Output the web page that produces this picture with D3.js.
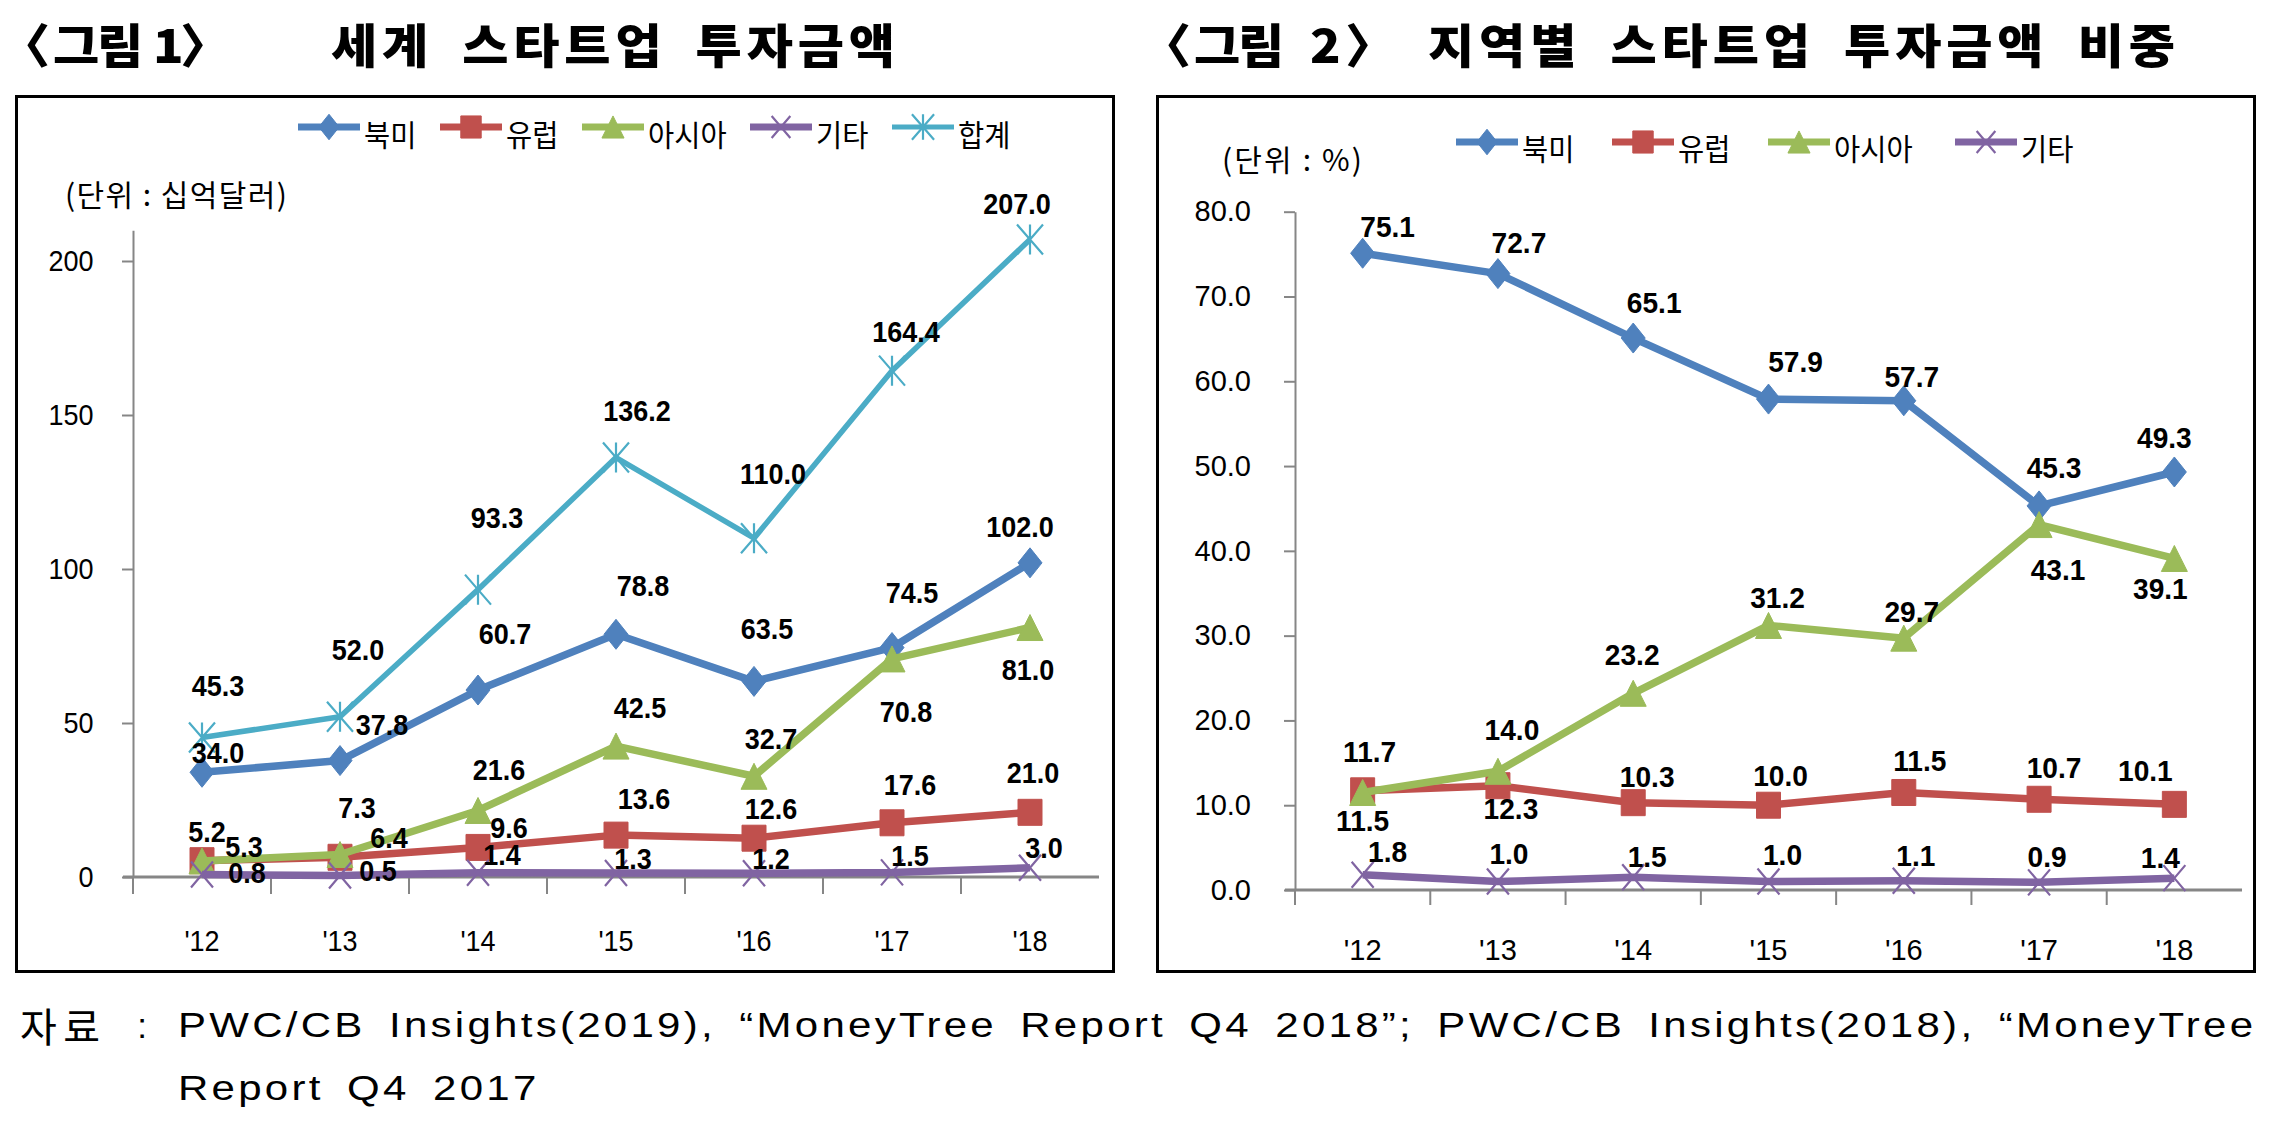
<!DOCTYPE html>
<html><head><meta charset="utf-8">
<script src="https://cdn.jsdelivr.net/npm/d3@7"></script>
<style>body{margin:0;background:#fff}svg{display:block}</style>
</head><body>
<svg id="c" width="2282" height="1126"></svg>
<script>
// ---------------- DATA ----------------
const years = ["'12","'13","'14","'15","'16","'17","'18"];
const seriesNames = ["북미","유럽","아시아","기타","합계"];
// 그림 1 : 세계 스타트업 투자금액 (십억달러)
const amtNorthAmerica = [34.0,37.8,60.7,78.8,63.5,74.5,102.0];
const amtEurope       = [5.3,6.4,9.6,13.6,12.6,17.6,21.0];
const amtAsia         = [5.2,7.3,21.6,42.5,32.7,70.8,81.0];
const amtOther        = [0.8,0.5,1.4,1.3,1.2,1.5,3.0];
const amtTotal        = [45.3,52.0,93.3,136.2,110.0,164.4,207.0];
const amtTicks        = [0,50,100,150,200];
// 그림 2 : 지역별 스타트업 투자금액 비중 (%)
const shareNorthAmerica = [75.1,72.7,65.1,57.9,57.7,45.3,49.3];
const shareEurope       = [11.7,12.3,10.3,10.0,11.5,10.7,10.1];
const shareAsia         = [11.5,14.0,23.2,31.2,29.7,43.1,39.1];
const shareOther        = [1.8,1.0,1.5,1.0,1.1,0.9,1.4];
const shareTicks        = [0,10,20,30,40,50,60,70,80];

// ---------------- LAYOUT / STYLE ----------------
const colors = {"북미":"#4F81BD","유럽":"#C0504D","아시아":"#9BBB59","기타":"#8064A2","합계":"#4BACC6"};
const markers = {"북미":"diamond","유럽":"square","아시아":"triangle","기타":"x","합계":"star"};
// data-label offsets (px, relative to the point)
const offL = {
  "북미":[[16,-20],[42,-36],[27,-57],[27,-49],[13,-53],[20,-55],[-10,-36]],
  "유럽":[[42,-14],[49,-20],[31,-20],[28,-37],[17,-30],[18,-38],[3,-40]],
  "아시아":[[5,-29],[17,-47],[21,-41],[24,-39],[17,-38],[14,53],[-2,42]],
  "기타":[[45,-2],[38,-5],[24,-18],[17,-15],[17,-15],[18,-17],[14,-20]],
  "합계":[[16,-52],[18,-67],[19,-72],[21,-47],[19,-65],[14,-39],[-13,-36]]
};
const offR = {
  "북미":[[25,-26],[21,-31],[21,-35],[27,-37],[8,-24],[15,-38],[-10,-34]],
  "유럽":[[7,-39],[13,23],[14,-26],[12,-29],[16,-32],[15,-31],[-29,-34]],
  "아시아":[[0,28],[14,-41],[-1,-38],[9,-28],[8,-26],[19,45],[-14,30]],
  "기타":[[25,-23],[11,-28],[14,-20],[14,-27],[12,-25],[8,-26],[-14,-20]]
};

const svg = d3.select("#c");
const NUMF = "'Liberation Sans', Arial, sans-serif";
const KRF = "'Noto Sans CJK KR', 'Noto Sans', sans-serif";

function markerPath(type, w, h){
  const a=w/2,b=h/2;
  switch(type){
    case "diamond": return `M0,${-b}L${a},0L0,${b}L${-a},0Z`;
    case "square": return `M${-a},${-b}H${a}V${b}H${-a}Z`;
    case "triangle": return `M0,${-b}L${a},${b}L${-a},${b}Z`;
    case "x": return `M${-a},${-b}L${a},${b}M${a},${-b}L${-a},${b}`;
    case "star": return `M${-a},${-b}L${a},${b}M${a},${-b}L${-a},${b}M0,${-b}V${b}`;
  }
}
const mSize = {diamond:[24,30],square:[24,26],triangle:[26,26],x:[22,26],star:[26,30]};
function drawMarker(g, type, cx, cy, color, k){
  k = k||1;
  const [w,h] = mSize[type];
  const filled = type==="diamond"||type==="square"||type==="triangle";
  g.append("path").attr("d", markerPath(type,w*k,h*k))
    .attr("transform",`translate(${cx},${cy})`)
    .attr("fill", filled?color:"none")
    .attr("stroke", color).attr("stroke-width", filled?1:2.2);
}
function txt(g, x, y, s, o){
  o=o||{};
  const t = g.append("text")
    .attr("transform",`translate(${x},${y}) scale(${o.sx||1},1)`)
    .attr("text-anchor", o.anchor||"middle")
    .attr("dominant-baseline","central")
    .attr("fill", o.fill||"#000")
    .style("font-family", o.family||NUMF)
    .style("font-size", (o.size||28)+"px")
    .style("font-weight", o.weight||"normal")
    .text(s);
  if(o.len){ t.attr("textLength", o.len).attr("lengthAdjust","spacing"); }
  return t;
}
// give word gaps a fixed extra, then spread the rest evenly over the letters
function spread(t, target, wsExtra){
  t.style("word-spacing", wsExtra+"px").style("letter-spacing","0px");
  const w = t.node().getBBox().width;
  const n = t.text().length;
  const ls = (target - w)/(n-1);
  t.style("letter-spacing", ls+"px");
  return ls;
}

function drawChart(cfg){
  const g = svg.append("g");
  const x = d3.scaleBand().domain(years).range([cfg.x0,cfg.x1]).padding(0);
  const y = d3.scaleLinear().domain(cfg.dom).range([cfg.y0,cfg.y1]);
  const cx = d => x(d)+x.bandwidth()/2;
  // y axis
  const ya = g.append("g").attr("transform",`translate(${cfg.x0},0)`)
    .call(d3.axisLeft(y).tickValues(cfg.ticks).tickSize(11).tickPadding(cfg.pad).tickSizeOuter(0).tickFormat(cfg.fmt));
  ya.select(".domain").attr("stroke","#868686").attr("stroke-width",2);
  ya.selectAll(".tick line").attr("stroke","#868686").attr("stroke-width",2);
  ya.selectAll(".tick text").attr("fill","#000")
    .style("font-family",NUMF).style("font-size",cfg.tickFont+"px")
    .attr("transform",`scale(${cfg.tsx},1)`);
  // x axis
  g.append("line").attr("x1",cfg.x0-10).attr("x2",cfg.x1).attr("y1",cfg.y0).attr("y2",cfg.y0)
    .attr("stroke","#868686").attr("stroke-width",3);
  d3.range(years.length).forEach(k=>{
    const xx = cfg.x0 + k*x.step();
    g.append("line").attr("x1",xx).attr("x2",xx).attr("y1",cfg.y0).attr("y2",cfg.y0+cfg.tl)
      .attr("stroke","#868686").attr("stroke-width",2);
  });
  years.forEach(yr=> txt(g, cx(yr), cfg.xly, yr, {size:cfg.tickFont, sx:cfg.tsx}));
  // series
  const line = d3.line().x((v,i)=>cx(years[i])).y(v=>y(v));
  cfg.series.forEach(s=>{
    const c = colors[s.name];
    g.append("path").datum(s.values).attr("d",line).attr("fill","none")
      .attr("stroke",c).attr("stroke-width", s.name==="합계"?5.5:7.5)
      .attr("stroke-linejoin","round");
    s.values.forEach((v,i)=> drawMarker(g, markers[s.name], cx(years[i]), y(v), c, cfg.mk));
  });
  // data labels
  cfg.series.forEach(s=>{
    const off = cfg.off[s.name];
    s.values.forEach((v,i)=>{
      txt(g, cx(years[i])+off[i][0], y(v)+off[i][1], d3.format(".1f")(v),
        {size:cfg.labFont, weight:"bold", sx:cfg.lsx});
    });
  });
}

function legend(items, xs, ty, my){
  const g = svg.append("g");
  items.forEach((n,i)=>{
    const x0 = xs[i];
    g.append("line").attr("x1",x0).attr("x2",x0+62).attr("y1",my).attr("y2",my)
      .attr("stroke",colors[n]).attr("stroke-width", n==="합계"?5:7);
    drawMarker(g, markers[n], x0+31, my, colors[n], 0.85);
    txt(g, x0+66, ty, n, {anchor:"start", family:KRF, size:30, sx:0.95});
  });
}

// frames
svg.append("rect").attr("x",16.5).attr("y",96.5).attr("width",1097).attr("height",875)
  .attr("fill","none").attr("stroke","#000").attr("stroke-width",3);
svg.append("rect").attr("x",1157.5).attr("y",96.5).attr("width",1097).attr("height",875)
  .attr("fill","none").attr("stroke","#000").attr("stroke-width",3);

// titles
const TSX = 1.07;
const TF = {family:KRF, size:47, weight:900, anchor:"start", sx:TSX};
function titleLabel(xOpen, xWord, num, xNum, xClose){
  txt(svg, xOpen, 43, "〈", TF);
  txt(svg, xWord, 43, "그림", TF).style("letter-spacing","-2px");
  txt(svg, xNum, 43, num, TF);
  txt(svg, xClose, 43, "〉", TF);
}
titleLabel(0, 53, "1", 153, 180);
spread(txt(svg, 331, 43, "세계 스타트업 투자금액", TF), 564/TSX, 12);
titleLabel(1141, 1194, "2", 1310, 1345);
spread(txt(svg, 1428, 43, "지역별 스타트업 투자금액 비중", TF), 747/TSX, 12);

// unit labels
txt(svg, 65, 193, "(단위 : 십억달러)", {family:KRF, size:30, anchor:"start", len:222});
txt(svg, 1222, 158, "(단위 : %)", {family:KRF, size:30, anchor:"start", len:140});

// legends
legend(seriesNames, [298,440,582,750,892], 133, 127);
legend(seriesNames.slice(0,4), [1456,1612,1768,1955], 147, 142);

// charts
drawChart({x0:133, x1:1099, y0:877, y1:230.2, dom:[0,210], ticks:amtTicks, fmt:d3.format("d"),
  pad:33, tsx:0.9, tickFont:30, tl:17, xly:940, labFont:30, lsx:0.9, mk:1, off:offL,
  series:[{name:"북미",values:amtNorthAmerica},{name:"유럽",values:amtEurope},
          {name:"아시아",values:amtAsia},{name:"기타",values:amtOther},{name:"합계",values:amtTotal}]});
drawChart({x0:1295, x1:2242, y0:890, y1:211.7, dom:[0,80], ticks:shareTicks, fmt:d3.format(".1f"),
  pad:33, tsx:1, tickFont:29, tl:15, xly:950, labFont:29, lsx:0.97, mk:1, off:offR,
  series:[{name:"북미",values:shareNorthAmerica},{name:"유럽",values:shareEurope},
          {name:"아시아",values:shareAsia},{name:"기타",values:shareOther}]});

// source note
txt(svg, 20, 1025, "자료", {family:KRF, size:40, anchor:"start", len:80});
txt(svg, 142, 1025, ":", {size:35, anchor:"middle"});
const FSX = 1.2;
const FN = {size:35, anchor:"start", sx:FSX};
const src1 = txt(svg, 178, 1025, "PWC/CB Insights(2019), “MoneyTree Report Q4 2018”; PWC/CB Insights(2018), “MoneyTree", FN);
const lsF = spread(src1, 2075/FSX, 7);
txt(svg, 178, 1088, "Report Q4 2017", FN).style("word-spacing","7px").style("letter-spacing", lsF+"px");
</script>
</body></html>
